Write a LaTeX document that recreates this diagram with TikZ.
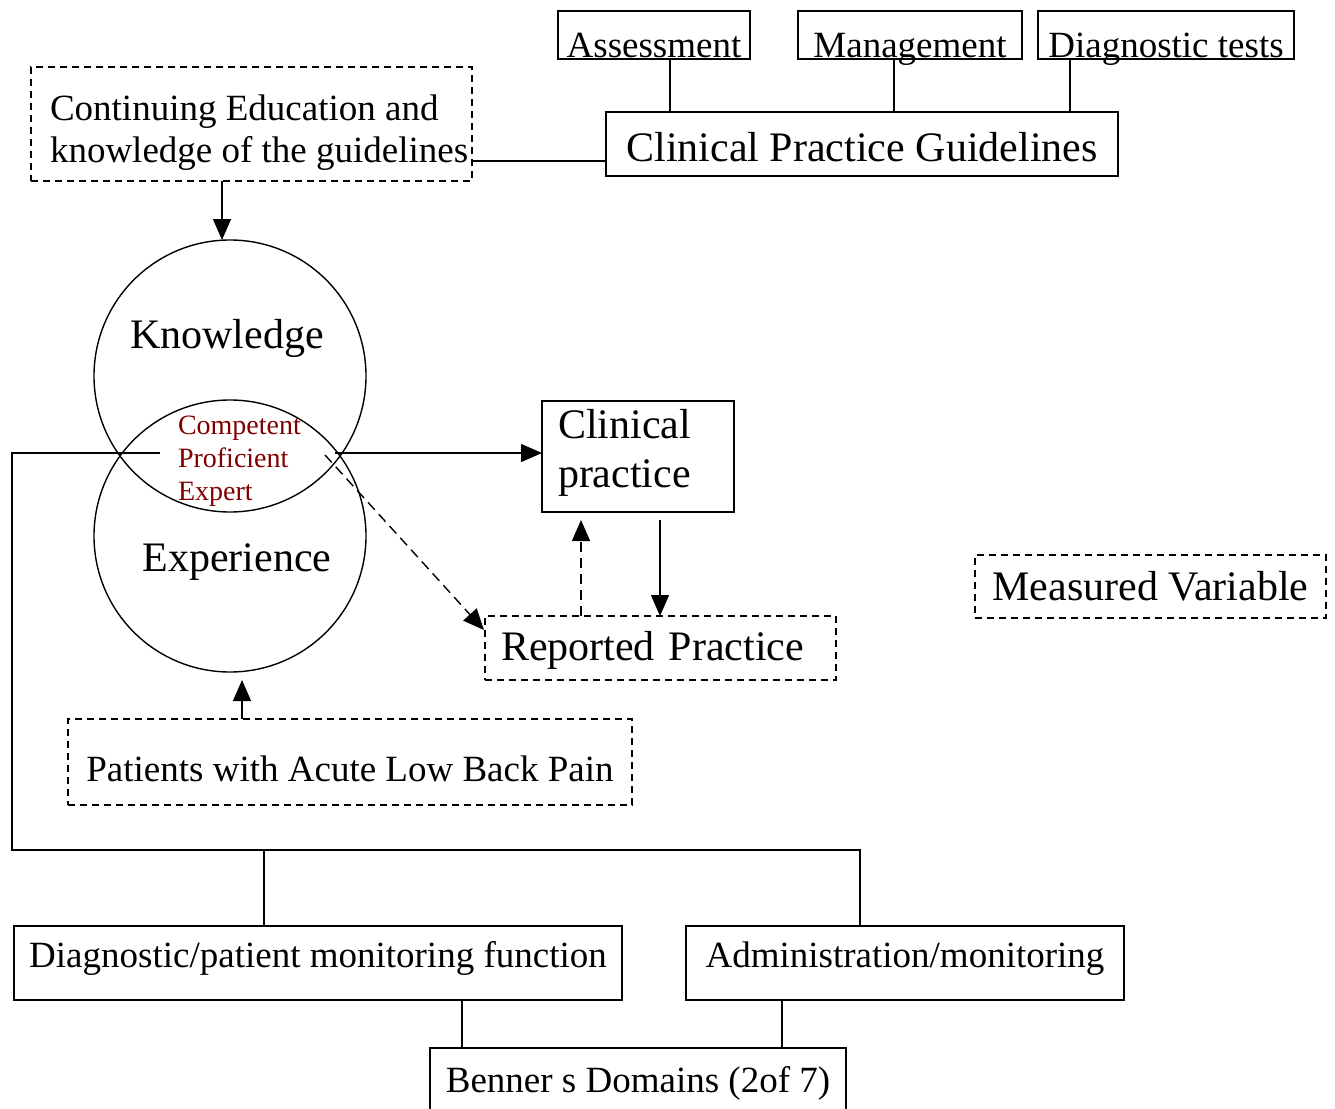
\documentclass[tikz,border=0pt]{standalone}
\usepackage{fontspec}
\setmainfont{Liberation Serif}
\usetikzlibrary{arrows.meta}
\definecolor{lensred}{RGB}{128,0,0}
\begin{document}
\begin{tikzpicture}[x=1pt,y=-1pt,
  every node/.style={inner sep=0pt, outer sep=0pt},
  sbox/.style={draw, line width=1.6pt, rectangle},
  dbox/.style={draw, line width=1.6pt, dash pattern=on 7pt off 5pt},
  conn/.style={line width=1.4pt},
  arr/.style={line width=1.4pt, -{Triangle[length=21pt,width=18pt]}},
  fA/.style={font=\fontsize{37}{42}\selectfont},
  fB/.style={font=\fontsize{42}{45}\selectfont},
  fBB/.style={font=\fontsize{42}{49}\selectfont},
  fC/.style={font=\fontsize{28}{33}\selectfont},
  circ/.style={draw, circle, line width=1.4pt, minimum size=272pt},
]
\useasboundingbox (0,0) rectangle (1335,1108);

% top guideline boxes
\node[sbox, fA, minimum width=192pt, minimum height=48pt, text height=44pt, text depth=0pt] (ass) at (654,35) {Assessment};
\node[sbox, fA, minimum width=224pt, minimum height=48pt, text height=44pt, text depth=0pt] (man) at (910,35) {Management};
\node[sbox, fA, minimum width=256pt, minimum height=48pt, text height=44pt, text depth=0pt] (dia) at (1166,35) {Diagnostic tests};
\node[sbox, fB, minimum width=512pt, minimum height=64pt, text height=34pt, text depth=0pt] (cpg) at (862,144) {Clinical Practice Guidelines};

% continuing education
\node[dbox, minimum width=441pt, minimum height=114pt] (ce) at (251.5,124) {};
\node[fA, align=left, anchor=north west] (ceT) at (50,94.7) {Continuing Education and\\knowledge of the guidelines};

% circles
\node[circ] (know) at (230,376) {};
\node[circ] (exp) at (230,536) {};
\node[fB, anchor=base] (knowT) at (227,348) {Knowledge};
\node[fB, anchor=base] (expT) at (237,571) {Experience};
\node[fC, text=lensred, align=left, anchor=north west] (lens) at (178,416) {Competent\\Proficient\\Expert};

% clinical practice
\node[sbox, minimum width=192pt, minimum height=111pt] (cp) at (638,456.5) {};
\node[fBB, align=left, anchor=north west] (cpT) at (558,409.3) {Clinical\\practice};

% reported practice & measured variable
\node[dbox, fB, text width=319pt, inner xsep=16pt, align=left, minimum height=64pt, text height=24pt, text depth=0pt] (rp) at (660.5,648) {Reported Practice};
\node[dbox, fB, minimum width=351pt, minimum height=63pt, text height=27pt, text depth=0pt] (mv) at (1150.5,586.5) {Measured Variable};

% patients
\node[dbox, fA, minimum width=564pt, minimum height=86pt, text height=38pt, text depth=0pt] (pat) at (350,762) {Patients with Acute Low Back Pain};

% Benner domains
\node[sbox, fA, minimum width=608pt, minimum height=74pt, text height=8pt, text depth=0pt] (dpm) at (318,963) {Diagnostic/patient monitoring function};
\node[sbox, fA, minimum width=438pt, minimum height=74pt, text height=8pt, text depth=0pt] (adm) at (905,963) {Administration/monitoring};
\node[sbox, fA, minimum width=416pt, minimum height=72pt, text height=16pt, text depth=0pt] (ben) at (638,1084) {Benner s Domains (2of 7)};

% connectors: guidelines
\draw[conn] (670,0 |- ass.south) -- (670,0 |- cpg.north);
\draw[conn] (894,0 |- man.south) -- (894,0 |- cpg.north);
\draw[conn] (1070,0 |- dia.south) -- (1070,0 |- cpg.north);
\draw[conn] (ce.east |- 0,161) -- (cpg.west |- 0,161);
\draw[arr] (222,0 |- ce.south) -- (222,0 |- know.north);

% connectors: lens
\coordinate (lensL) at (160,453);
\coordinate (lensR) at (335,453);
\coordinate (lensD) at (325,455);
\coordinate (rpTip) at (484,630);
\draw[conn] (lensL) -- (12,453) -- (12,850) -- (860,850) -- (860,0 |- adm.north);
\draw[conn] (264,850) -- (264,0 |- dpm.north);
\draw[arr] (lensR) -- (cp.west |- lensR);
\draw[arr, dash pattern=on 10pt off 6pt] (lensD) -- (rpTip);

% clinical practice <-> reported practice
\draw[arr, dash pattern=on 10pt off 6pt, shorten >=8pt] (581,0 |- rp.north) -- (581,0 |- cp.south);
\draw[arr, shorten <=8pt] (660,0 |- cp.south) -- (660,0 |- rp.north);

% patients -> experience
\draw[arr, shorten >=8pt] (242,0 |- pat.north) -- (242,0 |- exp.south);

% Benner links
\draw[conn] (462,0 |- dpm.south) -- (462,0 |- ben.north);
\draw[conn] (782,0 |- adm.south) -- (782,0 |- ben.north);
\end{tikzpicture}
\end{document}
